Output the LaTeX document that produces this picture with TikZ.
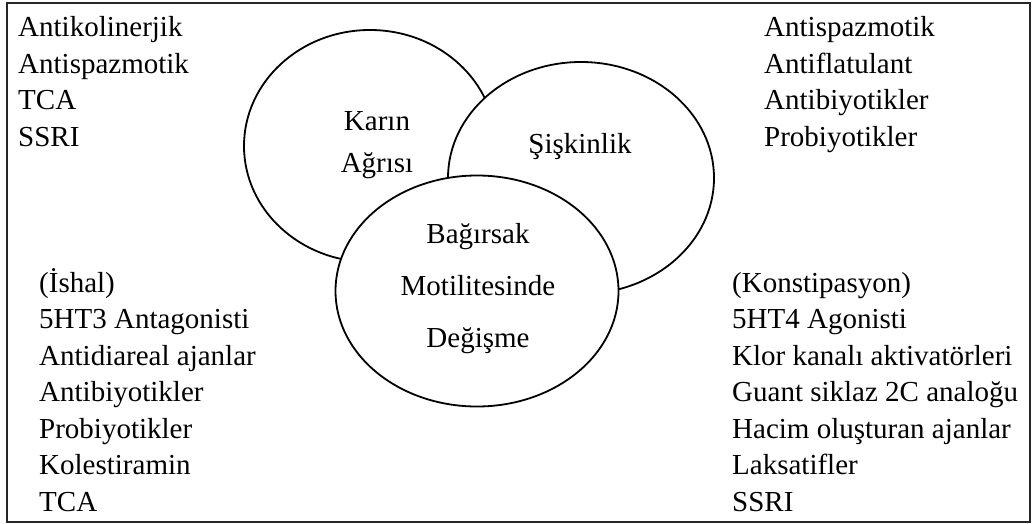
\documentclass[tikz,border=0pt]{standalone}
\usepackage{fontspec}
\setmainfont{Liberation Serif}
\usetikzlibrary{shapes.geometric}
\tikzset{
  circ/.style={ellipse, draw=black, line width=1.8pt, fill=white, inner sep=0pt},
  lbl/.style={anchor=base west, inner sep=0pt, font=\fontsize{29}{36}\selectfont},
  clbl/.style={anchor=base, inner sep=0pt, font=\fontsize{29}{36}\selectfont},
}
\begin{document}
\begin{tikzpicture}[x=1pt,y=-1pt]
\useasboundingbox (0,0) rectangle (1032,524);
\node[draw=black!85, line width=1.8pt, minimum width=1023pt, minimum height=519pt, inner sep=0pt] (frame) at (518.5,262.5) {};
% ellipses
\node[circ, minimum width=252pt, minimum height=232pt] (pain) at (370,146) {};
\node[circ, minimum width=266pt, minimum height=232pt] (bloat) at (581,178) {};
\node[circ, minimum width=283pt, minimum height=231pt] (motil) at (477,291) {};
% ellipse labels
\node[clbl] (p1) at (377,131) {Karın};
\node[clbl] (p2) at (377,172) {Ağrısı};
\node[clbl] (b1) at (580,153) {Şişkinlik};
\node[clbl] (m1) at (478,243) {Bağırsak};
\node[clbl] (m2) at (478,295) {Motilitesinde};
\node[clbl] (m3) at (478,347) {Değişme};
% top-left
\node[lbl] (tl1) at (18,37) {Antikolinerjik};
\node[lbl] (tl2) at (18,73.5) {Antispazmotik};
\node[lbl] (tl3) at (18,110) {TCA};
\node[lbl] (tl4) at (18,146.5) {SSRI};
% top-right
\node[lbl] (tr1) at (764,37) {Antispazmotik};
\node[lbl] (tr2) at (764,73.5) {Antiflatulant};
\node[lbl] (tr3) at (764,110) {Antibiyotikler};
\node[lbl] (tr4) at (764,146.5) {Probiyotikler};
% bottom-left
\node[lbl] (bl1) at (39,292) {(İshal)};
\node[lbl] (bl2) at (39,328.5) {5HT3 Antagonisti};
\node[lbl] (bl3) at (39,365) {Antidiareal ajanlar};
\node[lbl] (bl4) at (39,401.5) {Antibiyotikler};
\node[lbl] (bl5) at (39,438) {Probiyotikler};
\node[lbl] (bl6) at (39,474.5) {Kolestiramin};
\node[lbl] (bl7) at (39,511) {TCA};
% bottom-right
\node[lbl] (br1) at (732,292) {(Konstipasyon)};
\node[lbl] (br2) at (732,328.5) {5HT4 Agonisti};
\node[lbl] (br3) at (732,365) {Klor kanalı aktivatörleri};
\node[lbl] (br4) at (732,401.5) {Guant siklaz 2C analoğu};
\node[lbl] (br5) at (732,438) {Hacim oluşturan ajanlar};
\node[lbl] (br6) at (732,474.5) {Laksatifler};
\node[lbl] (br7) at (732,511) {SSRI};
\end{tikzpicture}
\end{document}
